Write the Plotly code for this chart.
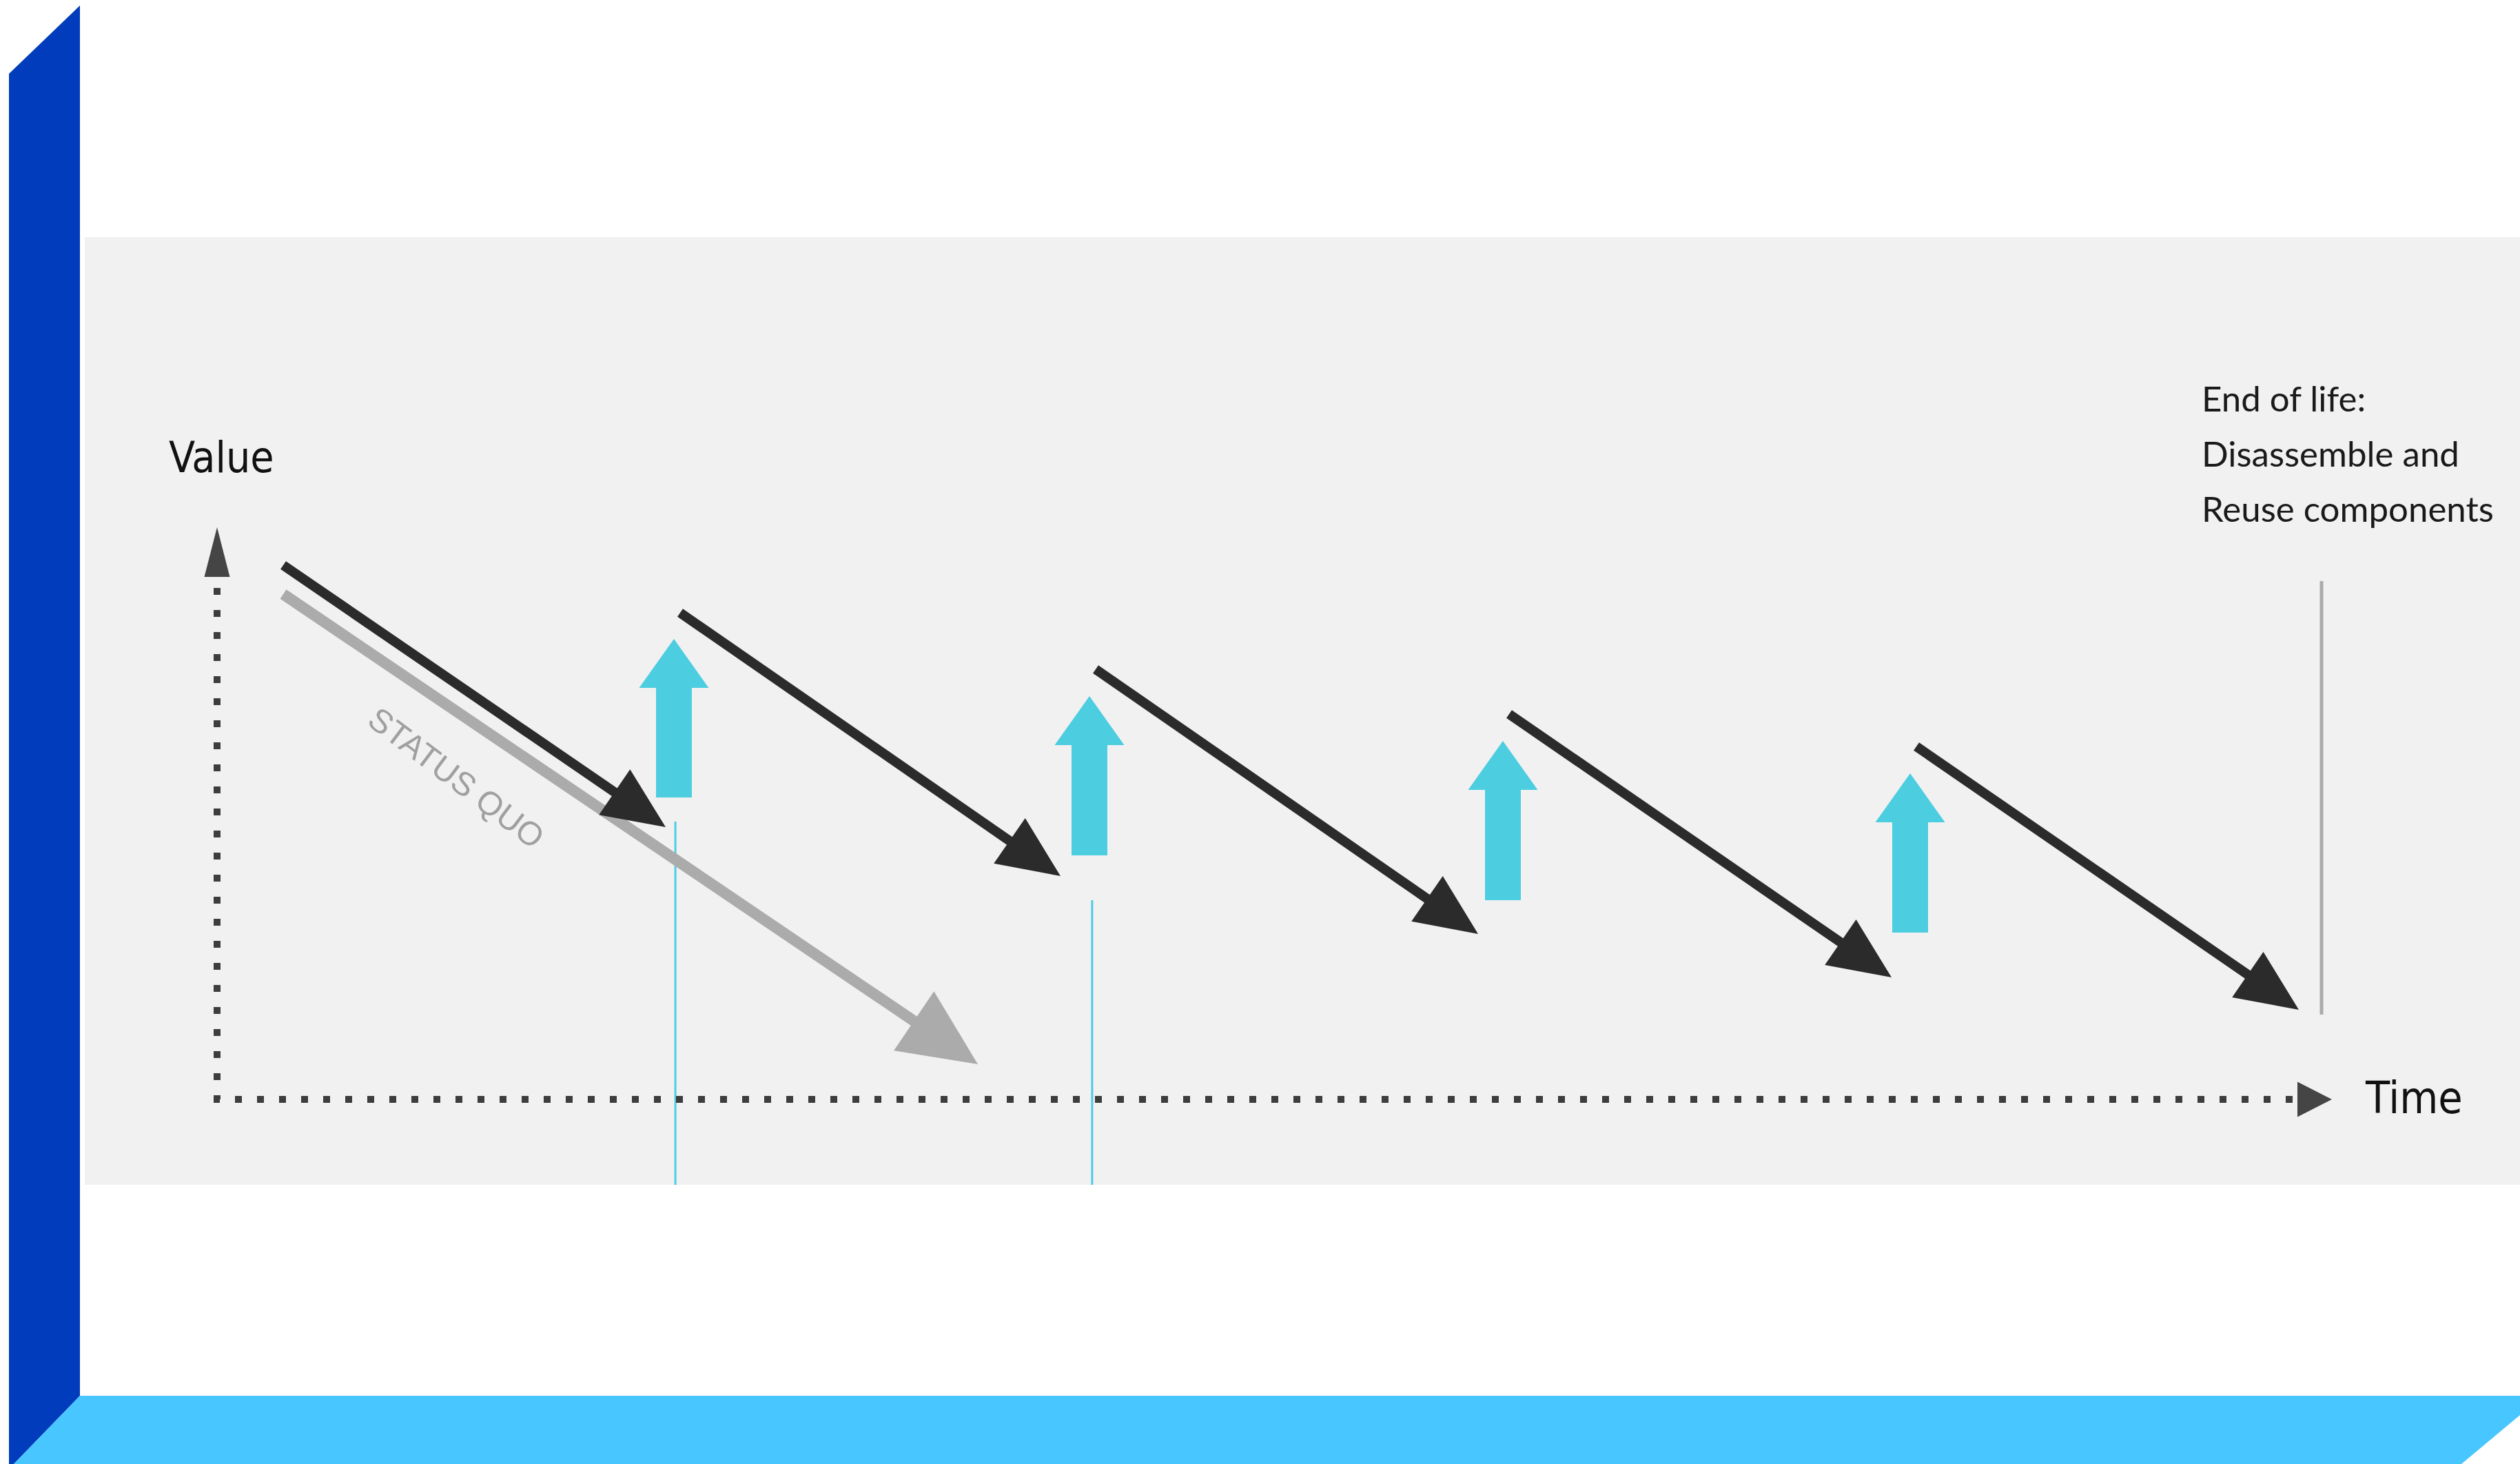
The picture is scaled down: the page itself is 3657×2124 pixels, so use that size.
import numpy as np
import plotly.graph_objects as go

W, H = 3657, 2124
# coordinate system: time units / value units mapped to the canvas
ORIGIN_X, PX_PER_T = 315, 300.0
ORIGIN_Y, PX_PER_V = 1595, 100.0

# ---- data ----
cycle_start_t = [0.32, 2.24, 4.25, 6.25, 8.22]
cycle_start_v = [7.75, 7.06, 6.24, 5.59, 5.12]
cycle_end_t = [2.17, 4.08, 6.10, 8.10, 10.07]
cycle_end_v = [3.95, 3.24, 2.40, 1.77, 1.30]

status_quo_t = [0.32, 3.68]
status_quo_v = [7.33, 0.51]

upgrade_t = [2.21, 4.22, 6.22, 8.19]
upgrade_v_from = [4.38, 3.54, 2.89, 2.42]
upgrade_v_to = [6.68, 5.85, 5.20, 4.73]

guide_t = [2.217, 4.233]
guide_v_top = [4.03, 2.89]
guide_v_bottom = [-1.24, -1.24]

eol_t = 10.18
eol_v = [7.52, 1.23]

axis_value_top = 8.30
axis_time_end = 10.23

labels_value = "Value"
labels_time = "Time"
label_status = "STATUS QUO"
eol_lines = ["End of life:", "Disassemble and", "Reuse components"]


def to_px(t, v):
    return ORIGIN_X + np.asarray(t) * PX_PER_T, ORIGIN_Y - np.asarray(v) * PX_PER_V


def from_px(x, y):
    return (np.asarray(x) - ORIGIN_X) / PX_PER_T, (ORIGIN_Y - np.asarray(y)) / PX_PER_V


fig = go.Figure()


def poly(xs_px, ys_px, color):
    t, v = from_px(xs_px, ys_px)
    fig.add_trace(go.Scatter(x=list(t) + [t[0]], y=list(v) + [v[0]], mode="lines",
                             fill="toself", fillcolor=color, line=dict(width=0, color=color),
                             hoverinfo="skip", showlegend=False))


def line(ts, vs, color, width, dash=None):
    fig.add_trace(go.Scatter(x=ts, y=vs, mode="lines",
                             line=dict(color=color, width=width, dash=dash),
                             hoverinfo="skip", showlegend=False))


def arrow(t0, v0, t1, v1, color, width, head_len, head_w):
    x0, y0 = to_px(t0, v0)
    x1, y1 = to_px(t1, v1)
    d = np.array([x1 - x0, y1 - y0], dtype=float)
    u = d / np.linalg.norm(d)
    n = np.array([-u[1], u[0]])
    back = np.array([x1, y1]) - u * head_len
    end = np.array([x1, y1]) - u * head_len * 0.7
    te, ve = from_px(end[0], end[1])
    line([t0, float(te)], [v0, float(ve)], color, width)
    c1 = back + n * head_w / 2
    c2 = back - n * head_w / 2
    poly([x1, c1[0], c2[0]], [y1, c1[1], c2[1]], color)


# thin cyan guide lines
for t, vt, vb in zip(guide_t, guide_v_top, guide_v_bottom):
    line([t, t], [vt, vb], "#4dcde0", 3)

# status quo
arrow(status_quo_t[0], status_quo_v[0], status_quo_t[1], status_quo_v[1],
      "#ababab", 16, 112, 104)

# product life cycles
for t0, v0, t1, v1 in zip(cycle_start_t, cycle_start_v, cycle_end_t, cycle_end_v):
    arrow(t0, v0, t1, v1, "#2b2b2b", 14, 90, 80)

# upgrade arrows (cyan block arrows)
for t, vb, vt in zip(upgrade_t, upgrade_v_from, upgrade_v_to):
    cx, yb = to_px(t, vb)
    _, yt = to_px(t, vt)
    hh, hw, sw = 71, 101, 52
    xs = [cx - sw / 2, cx - sw / 2, cx - hw / 2, cx, cx + hw / 2, cx + sw / 2, cx + sw / 2]
    ys = [yb, yt + hh, yt + hh, yt, yt + hh, yt + hh, yb]
    poly(xs, ys, "#4dcde0")

# end-of-life marker
line([eol_t, eol_t], eol_v, "#ababab", 5)

# dotted axes
ax_top_px = to_px(0, axis_value_top)[1] + 88
ax_top_v = from_px(0, ax_top_px)[1]
ax_end_px = to_px(axis_time_end, 0)[0] - 50
ax_end_t = from_px(ax_end_px, 0)[0]
line([0, 0, float(ax_end_t)], [float(ax_top_v), 0, 0], "#3d3d3d", 10, dash="10px,22px")
# axis arrowheads
xt, yt = to_px(0, axis_value_top)
poly([xt, xt - 18.5, xt + 18.5], [yt, yt + 72, yt + 72], "#454545")
xe, ye = to_px(axis_time_end, 0)
poly([xe, xe - 50, xe - 50], [ye, ye - 25.5, ye + 25.5], "#454545")

# ---- texts ----
AX_FONT = "Liberation Sans Narrow, DejaVu Sans Condensed, Arial"
ann = []
tv, vv = from_px(243, 663)
ann.append(dict(x=float(tv), y=float(vv), text=labels_value, xanchor="left", yanchor="middle",
                font=dict(family=AX_FONT, size=62, color="#111111")))
tt, vt_ = from_px(3430, 1593)
ann.append(dict(x=float(tt), y=float(vt_), text=labels_time, xanchor="left", yanchor="middle",
                font=dict(family=AX_FONT, size=64, color="#111111")))
ts, vs = from_px(662, 1128)
ann.append(dict(x=float(ts), y=float(vs), text=label_status, textangle=37,
                xanchor="center", yanchor="middle",
                font=dict(family="Liberation Sans, Arial", size=48, color="#a0a0a0")))
for txt, ymid in zip(eol_lines, [577, 657, 737]):
    te_, ve_ = from_px(3193, ymid)
    ann.append(dict(x=float(te_), y=float(ve_), text=txt, xanchor="left", yanchor="middle",
                    font=dict(family="Lato, Noto Sans, sans-serif", size=51, color="#1a1a1a")))
for a in ann:
    a.update(showarrow=False, xref="x", yref="y")

# ---- frame decoration ----
def P(x, y):
    return f"{x / W:.6f},{1 - y / H:.6f}"

shapes = [
    dict(type="rect", xref="paper", yref="paper", x0=123 / W, x1=1, y0=1 - 1719 / H, y1=1 - 344 / H,
         fillcolor="#f1f1f1", line=dict(width=0), layer="below"),
    dict(type="path", xref="paper", yref="paper", layer="above",
         path=f"M{P(13,107)} L{P(116,8)} L{P(116,2025)} L{P(20,2124)} L{P(13,2124)} Z",
         fillcolor="#003cbc", line=dict(width=0)),
    dict(type="path", xref="paper", yref="paper", layer="above",
         path=f"M{P(116,2025)} L{P(3657,2025)} L{P(3657,2053)} L{P(3572,2124)} L{P(20,2124)} Z",
         fillcolor="#48c6ff", line=dict(width=0)),
]

xr = [float(from_px(0, 0)[0]), float(from_px(W, 0)[0])]
yr = [float(from_px(0, H)[1]), float(from_px(0, 0)[1])]

fig.update_layout(
    width=W, height=H, autosize=False,
    margin=dict(l=0, r=0, t=0, b=0, pad=0),
    paper_bgcolor="white", plot_bgcolor="rgba(0,0,0,0)",
    xaxis=dict(range=xr, visible=False, showgrid=False, zeroline=False, fixedrange=True),
    yaxis=dict(range=yr, visible=False, showgrid=False, zeroline=False, fixedrange=True),
    annotations=ann, shapes=shapes, showlegend=False,
)

fig.write_html("out.html", config={"displayModeBar": False},
               post_script="document.body.style.margin='0';document.body.style.overflow='hidden';")
